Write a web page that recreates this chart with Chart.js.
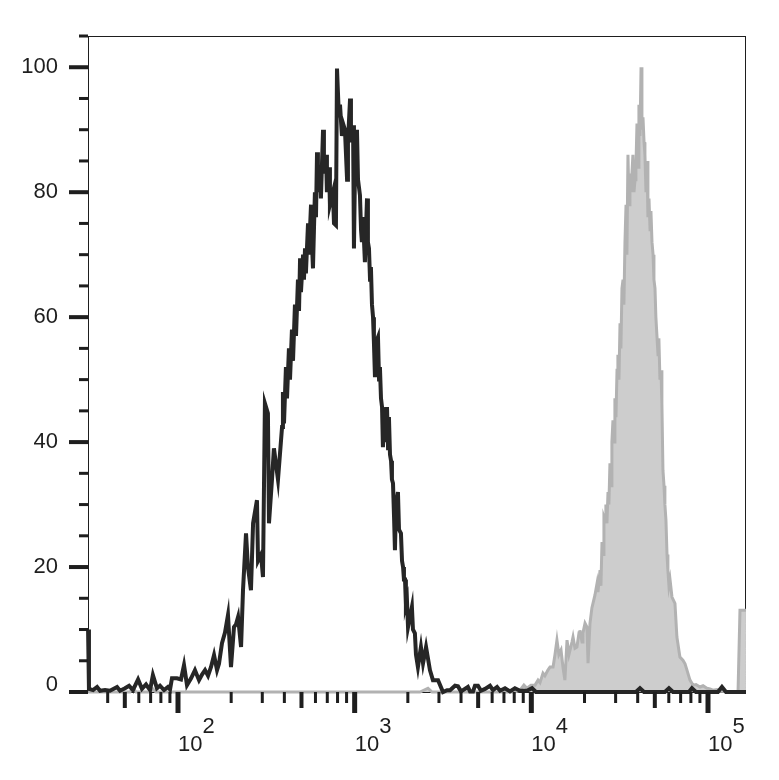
<!DOCTYPE html>
<html>
<head>
<meta charset="utf-8">
<script src="https://cdn.jsdelivr.net/npm/chart.js@4.4.1/dist/chart.umd.min.js"></script>
<style>
  html, body { margin: 0; padding: 0; background: #fff; }
  canvas { display: block; }
</style>
</head>
<body>
<canvas id="histChart" width="779" height="780"></canvas>
<script>
// x values are decades (log10 of intensity), y values are % of max
const controlLog = [
  1.491, 1.496, 1.519, 1.542, 1.559, 1.587, 1.615, 1.655, 1.672, 1.700,
  1.723, 1.745, 1.774, 1.796, 1.819, 1.842, 1.858, 1.881, 1.898, 1.921,
  1.943, 1.955, 1.966, 1.994, 2.017, 2.034, 2.051, 2.074, 2.096, 2.119,
  2.136, 2.153, 2.170, 2.187, 2.204, 2.221, 2.232, 2.249, 2.266, 2.283,
  2.300, 2.317, 2.328, 2.340, 2.357, 2.368, 2.385, 2.396, 2.413, 2.425,
  2.447, 2.453, 2.470, 2.481, 2.492, 2.509, 2.515, 2.532, 2.543, 2.566,
  2.589, 2.594, 2.600, 2.611, 2.617, 2.628, 2.634, 2.645, 2.651, 2.662,
  2.668, 2.679, 2.685, 2.691, 2.696, 2.708, 2.713, 2.719, 2.724, 2.736,
  2.741, 2.753, 2.758, 2.764, 2.775, 2.781, 2.787, 2.792, 2.804, 2.809,
  2.821, 2.826, 2.838, 2.843, 2.855, 2.860, 2.877, 2.883, 2.894, 2.900,
  2.911, 2.917, 2.928, 2.934, 2.945, 2.957, 2.962, 2.974, 2.979, 2.991,
  2.996, 3.002, 3.013, 3.019, 3.030, 3.036, 3.041, 3.047, 3.058, 3.064,
  3.070, 3.075, 3.081, 3.087, 3.092, 3.098, 3.104, 3.109, 3.115, 3.121,
  3.132, 3.138, 3.143, 3.149, 3.155, 3.160, 3.166, 3.172, 3.177, 3.183,
  3.189, 3.194, 3.200, 3.206, 3.211, 3.217, 3.223, 3.228, 3.234, 3.245,
  3.251, 3.262, 3.268, 3.274, 3.279, 3.285, 3.290, 3.296, 3.302, 3.313,
  3.324, 3.330, 3.341, 3.347, 3.358, 3.375, 3.387, 3.404, 3.426, 3.443,
  3.472, 3.500, 3.523, 3.540, 3.568, 3.585, 3.602, 3.613, 3.641, 3.653,
  3.670, 3.681, 3.698, 3.715, 3.738, 3.766, 3.783, 3.806, 3.823, 3.851,
  3.879, 3.907, 3.936, 3.975, 4.004, 4.026, 4.162, 4.389, 4.592, 4.615,
  4.638, 4.756, 4.779, 4.802, 4.892, 4.909, 4.932, 5.056, 5.079, 5.102,
  5.215
];
const controlCount = [
  10, 0.5, 0.3, 0.8, 0.2, 0.3, 0.2, 0.8, 0.2, 0.6,
  1.0, 0.3, 2.0, 0.5, 1.2, 0.3, 2.7, 0.6, 1.0, 0.3,
  0.8, 0.4, 2.2, 2.2, 2.0, 4.3, 1.1, 2.2, 3.5, 1.9,
  2.8, 3.5, 2.6, 4.0, 5.9, 3.5, 4.5, 7.8, 9.5, 12.3,
  4.0, 10.4, 10.8, 12.0, 7.2, 16.3, 25.4, 20.0, 16.3, 27.0,
  30.7, 21.0, 22.0, 18.4, 46.2, 44.6, 27.0, 34.0, 39.0, 34.0,
  42.4, 48, 43, 52, 47, 55, 50, 58, 53, 62,
  57, 66, 61, 69.4, 64, 70, 66, 71, 67, 75,
  70, 78, 72, 67.8, 80, 76, 86.4, 80, 84, 79,
  90, 83, 86, 80, 84, 78, 80, 75, 74.7, 99.8,
  92, 94, 89, 91, 90, 82, 88, 95, 88, 90.7,
  71, 84, 90, 82, 79.5, 74, 72, 76, 68.8, 74,
  79, 72, 71, 66, 68, 62, 60, 56, 50.4, 56,
  56.8, 50, 52, 47, 45.6, 39.2, 44, 44, 40, 45.6,
  39, 44, 38, 37, 34, 33.4, 28, 22.7, 30, 32,
  26, 25.4, 21, 20, 18, 18, 14, 14.7, 10.4, 12,
  13.6, 10, 9.4, 6, 4, 7.2, 4.6, 7.2, 3.5, 1.9,
  1.9, 0, 0.3, 0.3, 1.0, 0.9, 0.1, 0.3, 0.8, 0.1,
  0.1, 1.0, 1.0, 0.2, 0.5, 1.0, 0.3, 0.8, 0.2, 0.6,
  0.1, 0.6, 0.2, 0.2, 0.6, 0, 0, 0, 0, 0.6,
  0, 0, 0.6, 0, 0, 0.6, 0, 0, 0.8, 0,
  0
];

const stainedLog = [
  1.491, 1.728, 1.745, 1.762, 1.842, 1.858, 1.875, 3.370, 3.415, 3.438,
  3.907, 3.936, 3.958, 3.975, 3.998, 4.021, 4.038, 4.049, 4.066, 4.077,
  4.094, 4.106, 4.123, 4.134, 4.145, 4.156, 4.168, 4.179, 4.190, 4.202,
  4.213, 4.219, 4.230, 4.236, 4.247, 4.258, 4.270, 4.275, 4.287, 4.292,
  4.304, 4.315, 4.321, 4.332, 4.343, 4.349, 4.360, 4.372, 4.377, 4.389,
  4.394, 4.400, 4.406, 4.411, 4.417, 4.422, 4.428, 4.434, 4.439, 4.445,
  4.451, 4.456, 4.462, 4.468, 4.473, 4.479, 4.485, 4.490, 4.496, 4.502,
  4.507, 4.513, 4.519, 4.524, 4.530, 4.536, 4.541, 4.547, 4.553, 4.558,
  4.564, 4.575, 4.581, 4.587, 4.592, 4.598, 4.604, 4.609, 4.615, 4.621,
  4.626, 4.632, 4.638, 4.643, 4.649, 4.655, 4.660, 4.666, 4.672, 4.677,
  4.683, 4.689, 4.694, 4.700, 4.705, 4.711, 4.717, 4.722, 4.728, 4.734,
  4.739, 4.745, 4.751, 4.756, 4.762, 4.768, 4.773, 4.779, 4.785, 4.796,
  4.813, 4.824, 4.841, 4.858, 4.870, 4.881, 4.898, 4.915, 4.932, 4.955,
  4.972, 4.994, 5.011, 5.028, 5.051, 5.068, 5.170, 5.181, 5.215
];
const stainedCount = [
  0, 0, 0.6, 0, 0, 0.5, 0, 0, 0.6, 0,
  0, 0.3, 1.1, 0.6, 1.1, 1.1, 1.9, 1.5, 3.0, 2.6,
  3.5, 4.0, 4.0, 6.0, 8.3, 6.0, 6.7, 4.0, 1.9, 8.3,
  6.0, 6.7, 8.0, 8.8, 7.0, 7.2, 9.5, 9.9, 8.0, 9.4,
  11.0, 10.4, 4.6, 11.0, 13.5, 14.2, 15.5, 17.4, 16.0, 19.5,
  17, 24, 22, 28, 27.5, 30, 27, 32, 30, 36.6,
  33, 40, 43.5, 40, 47, 44, 51.5, 54, 50, 59,
  55, 64.6, 66, 62, 72, 78, 70, 86, 78, 83,
  80, 86, 80, 82, 84, 91, 84, 94, 89, 100,
  90, 92, 88, 86, 80, 85, 76, 79, 74, 77,
  72, 70, 66, 64.6, 60, 57, 54, 56.6, 50, 51.5,
  46.2, 35.5, 33, 30, 27.5, 22, 19.5, 17, 18, 15.2,
  14.2, 8.8, 5.6, 5.1, 4.5, 3.5, 1.9, 1.1, 1.2, 0.8,
  1.0, 0.6, 0.5, 0.3, 0.4, 0.1, 0, 13.1, 13.1
];

const yTicks = [0, 20, 40, 60, 80, 100];
const xDecades = [2, 3, 4, 5];
const xRangeLog = [1.4906, 5.2151];
const yRange = [0, 105];

const toPoints = (logs, counts) => logs.map((d, i) => ({ x: Math.pow(10, d), y: counts[i] }));

const ink = "#1e1e1e";
const labelFont = "22px 'Liberation Sans', Arial, sans-serif";

const flowAxes = {
  id: "flowAxes",
  beforeDatasetsDraw(chart) {
    const { ctx, chartArea: a } = chart;
    ctx.save();
    ctx.strokeStyle = ink;
    ctx.lineWidth = 1;
    ctx.strokeRect(a.left + 0.5, a.top + 0.5, a.right - a.left - 1, a.bottom - a.top);
    ctx.restore();
  },
  afterDraw(chart) {
    const { ctx, chartArea: a, scales } = chart;
    const x = scales.x, y = scales.y;
    ctx.save();
    ctx.fillStyle = ink;

    // y ticks every 5, labelled every 20
    for (let v = yRange[0]; v <= yRange[1]; v += 5) {
      const py = y.getPixelForValue(v);
      const major = yTicks.includes(v);
      const len = major ? 19 : 9;
      const w = major ? 4 : 3;
      ctx.fillRect(a.left - len, py - w / 2, len, w);
    }
    ctx.font = labelFont;
    ctx.textAlign = "right";
    ctx.textBaseline = "middle";
    yTicks.forEach(v => {
      const py = y.getPixelForValue(v) - (v === 0 ? 7 : 0);
      ctx.fillText(String(v), 58, py);
    });

    // x ticks: decades long, 5x medium, others short
    const lo = Math.pow(10, xRangeLog[0]), hi = Math.pow(10, xRangeLog[1]);
    for (let n = 1; n <= 5; n++) {
      for (let m = 1; m <= 9; m++) {
        const v = m * Math.pow(10, n);
        if (v < lo || v > hi) continue;
        const px = x.getPixelForValue(v);
        const len = m === 1 ? 21 : (m === 5 ? 16 : 11);
        const w = m === 1 ? 5 : (m === 5 ? 4 : 3);
        ctx.fillRect(px - w / 2, a.bottom, w, len);
      }
    }
    ctx.textAlign = "left";
    ctx.textBaseline = "alphabetic";
    xDecades.forEach(n => {
      const px = x.getPixelForValue(Math.pow(10, n));
      ctx.fillText("10", px, 751);
      const w = ctx.measureText("10").width;
      ctx.fillText(String(n), px + w, 733);
    });
    ctx.restore();
  }
};

document.addEventListener("DOMContentLoaded", () => {
  const ctx = document.getElementById("histChart").getContext("2d");

  new Chart(ctx, {
    type: "line",
    data: {
      datasets: [
        {
          label: "Control",
          data: toPoints(controlLog, controlCount),
          borderColor: "#262626",
          borderWidth: 4,
          pointRadius: 0,
          tension: 0,
          fill: false,
          clip: 6
        },
        {
          label: "Stained",
          data: toPoints(stainedLog, stainedCount),
          borderColor: "#b2b2b2",
          backgroundColor: "#cdcdcd",
          borderWidth: 3,
          pointRadius: 0,
          tension: 0,
          fill: "origin",
          clip: 6
        }
      ]
    },
    options: {
      responsive: false,
      animation: false,
      layout: { padding: { top: 36, right: 33, left: 0, bottom: 0 } },
      plugins: {
        legend: { display: false },
        tooltip: { enabled: false }
      },
      scales: {
        x: {
          type: "logarithmic",
          min: Math.pow(10, xRangeLog[0]),
          max: Math.pow(10, xRangeLog[1]),
          grid: { display: false },
          border: { display: false },
          ticks: { display: false },
          afterFit: scale => { scale.height = 88; }
        },
        y: {
          type: "linear",
          min: yRange[0],
          max: yRange[1],
          grid: { display: false },
          border: { display: false },
          ticks: { display: false },
          afterFit: scale => { scale.width = 88; }
        }
      }
    },
    plugins: [flowAxes]
  });
});
</script>
</body>
</html>
